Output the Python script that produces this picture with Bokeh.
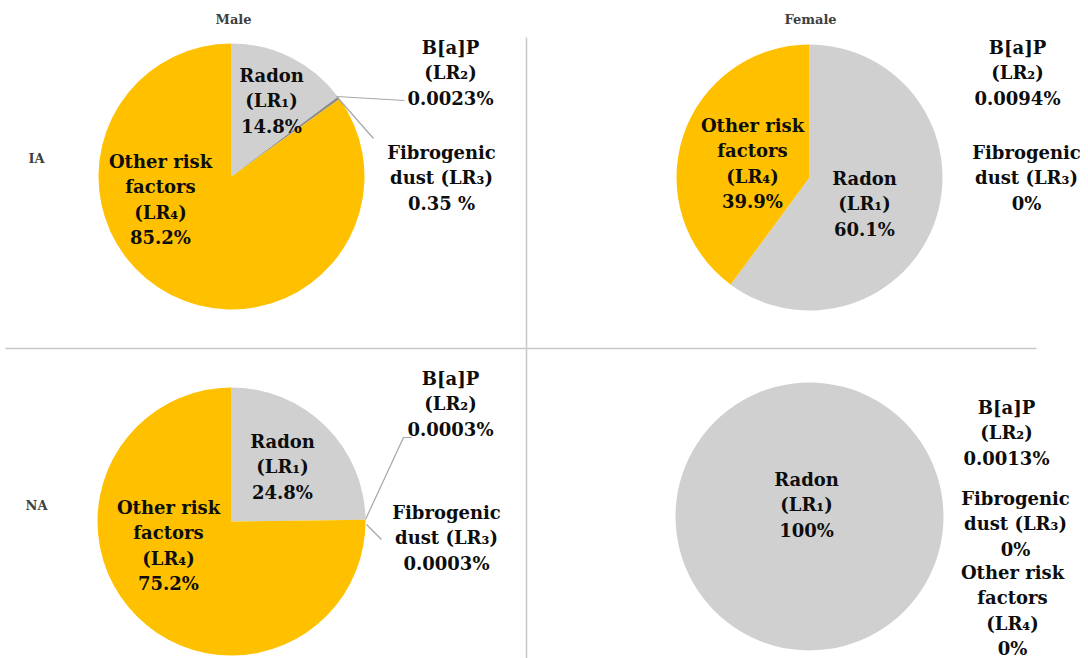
import math
from bokeh.plotting import figure
from bokeh.models import Range1d
from bokeh.core.properties import value
from bokeh.embed import file_html
from bokeh.resources import INLINE

# ---------------- data ----------------
categories = ["Radon", "B[a]P", "Fibrogenic dust", "Other risk factors"]
cat_lines = [["Radon", "(LR\u2081)"], ["B[a]P", "(LR\u2082)"],
             ["Fibrogenic", "dust (LR\u2083)"], ["Other risk", "factors", "(LR\u2084)"]]
male_ia = [14.8, 0.0023, 0.35, 85.2]
female_ia = [60.1, 0.0094, 0.0, 39.9]
male_na = [24.8, 0.0003, 0.0003, 75.2]
female_na = [100.0, 0.0013, 0.0, 0.0]
male_ia_txt = ["14.8%", "0.0023%", "0.35 %", "85.2%"]
female_ia_txt = ["60.1%", "0.0094%", "0%", "39.9%"]
male_na_txt = ["24.8%", "0.0003%", "0.0003%", "75.2%"]
female_na_txt = ["100%", "0.0013%", "0%", "0%"]
col_titles = ["Male", "Female"]
row_titles = ["IA", "NA"]
colors = ["#D0D0D0", "#A5A5A5", "#8C8C8C", "#FFC000"]

# ---------------- layout (screen px) ----------------
W, H = 1088, 658
def Y(sy):
    return H - sy

panels = [
    dict(vals=male_ia, txt=male_ia_txt, c=(231, 176), r=133,
         lab=[(271, 75), (450, 47), (441, 152), (160, 161)]),
    dict(vals=female_ia, txt=female_ia_txt, c=(809, 177), r=133,
         lab=[(864, 178), (1017, 47), (1026, 152), (752, 125)]),
    dict(vals=male_na, txt=male_na_txt, c=(231, 521), r=134,
         lab=[(282, 441), (450, 378), (446, 512), (168, 507)]),
    dict(vals=female_na, txt=female_na_txt, c=(809, 516), r=134,
         lab=[(806, 479), (1006, 407), (1015, 498), (1012, 572)]),
]
LS = 25.3

p = figure(width=W, height=H, x_range=Range1d(0, W), y_range=Range1d(0, H),
           output_backend="svg", toolbar_location=None, min_border=0)
p.axis.visible = False
p.grid.visible = False
p.outline_line_color = None
p.background_fill_color = "white"

# dividers
p.segment(x0=[526], y0=[Y(37)], x1=[526], y1=[Y(662)], line_color="#C8C8C8", line_width=1.5)
p.segment(x0=[5], y0=[Y(348)], x1=[1036], y1=[Y(348)], line_color="#C8C8C8", line_width=1.5)

# pies
for pan in panels:
    vals = pan["vals"]
    tot = sum(vals)
    cum = 0.0
    xs, ys, sa, ea, fc = [], [], [], [], []
    for v, c in zip(vals, colors):
        if v <= 0:
            continue
        a0 = math.pi / 2 - 2 * math.pi * cum / tot
        cum += v
        a1 = math.pi / 2 - 2 * math.pi * cum / tot
        if abs(a0 - a1) >= 2 * math.pi - 1e-9:
            p.circle(x=[pan["c"][0]], y=[Y(pan["c"][1])], radius=pan["r"], fill_color=c, line_color=None)
            continue
        xs.append(pan["c"][0]); ys.append(Y(pan["c"][1]))
        sa.append(a0); ea.append(a1); fc.append(c)
    if xs:
        p.wedge(x=xs, y=ys, radius=pan["r"], start_angle=sa, end_angle=ea,
                direction="clock", fill_color=fc, line_color=None)

# leader lines
lead_col = "#A6A6A6"
p.line(x=[336, 404], y=[Y(96), Y(100)], line_color=lead_col, line_width=1.2)
p.line(x=[337, 373], y=[Y(97), Y(138)], line_color=lead_col, line_width=1.2)
p.line(x=[365, 403, 411], y=[Y(519), Y(437), Y(437)], line_color=lead_col, line_width=1.2)
p.line(x=[366, 381], y=[Y(524), Y(539)], line_color=lead_col, line_width=1.2)

# labels
tx, ty, tt = [], [], []
for pan in panels:
    for i, (lx, ly) in enumerate(pan["lab"]):
        lines = cat_lines[i] + [pan["txt"][i]]
        for k, s in enumerate(lines):
            tx.append(lx); ty.append(Y(ly + k * LS)); tt.append(s)
p.text(x=tx, y=ty, text=tt, text_font=value("DejaVu Serif"), text_font_style="bold",
       text_font_size="18px", text_color="#0d0d0d", text_align="center", text_baseline="middle")

# headers
p.text(x=[233, 810], y=[Y(19), Y(19)], text=col_titles, text_font=value("DejaVu Serif"),
       text_font_style="bold", text_font_size="13px", text_color="#404040",
       text_align="center", text_baseline="middle")
p.text(x=[36, 36], y=[Y(158), Y(505)], text=row_titles, text_font=value("DejaVu Serif"),
       text_font_style="bold", text_font_size="13px", text_color="#404040",
       text_align="center", text_baseline="middle")

open("out.html", "w").write(file_html(p, INLINE))
